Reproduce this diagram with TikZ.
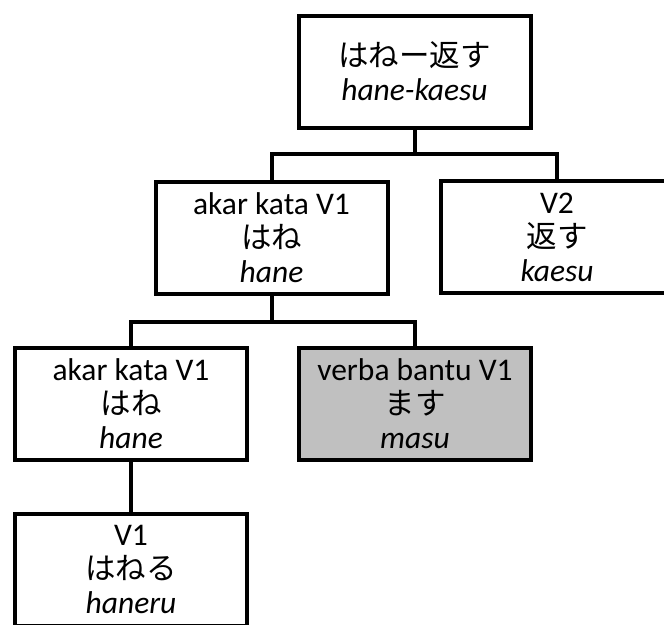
\documentclass[tikz,border=0pt]{standalone}
\usepackage{fontspec}
\setmainfont{Carlito}
\newfontfamily\cjk{Noto Sans CJK JP}
\newcommand{\jp}[1]{{\cjk\fontsize{30.5}{37}\selectfont #1}}
\definecolor{boxgray}{RGB}{192,192,192}
\begin{document}
\begin{tikzpicture}[x=1pt,y=-1pt,
  box/.style={draw=black, line width=4pt, fill=white, minimum width=232pt, minimum height=112pt,
    inner sep=0pt, align=center, font=\fontsize{31.5}{34}\selectfont},
  link/.style={draw=black, line width=4pt}]
\useasboundingbox (0,0) rectangle (664,624);
\node[box] (top) at (414.5,71.5) {\jp{はねー返す}\\\textit{hane-kaesu}};
\node[box] (l2) at (271.5,237.5) {akar kata V1\\\jp{はね}\\\textit{hane}};
\node[box] (r2) at (557,237) {V2\\\jp{返す}\\\textit{kaesu}};
\node[box] (l3) at (131,404) {akar kata V1\\\jp{はね}\\\textit{hane}};
\node[box, fill=boxgray] (aux) at (415,404) {verba bantu V1\\\jp{ます}\\\textit{masu}};
\node[box] (bot) at (131,569.5) {V1\\\jp{はねる}\\\textit{haneru}};
\coordinate (j1) at (414.5,154);
\coordinate (j2) at (271.5,322);
\draw[link] (top.south) -- (j1);
\draw[link] (l2.north) |- (j1) -| (r2.north);
\draw[link] (l2.south) -- (j2);
\draw[link] (l3.north) |- (j2) -| (aux.north);
\draw[link] (l3.south) -- (bot.north);
\end{tikzpicture}
\end{document}
